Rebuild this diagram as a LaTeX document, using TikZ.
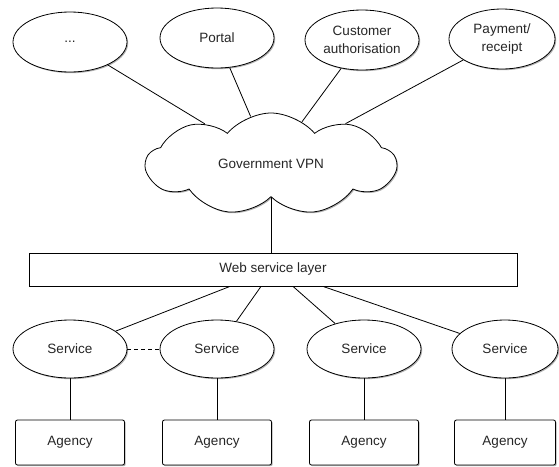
\documentclass[tikz,border=0pt]{standalone}
\usepackage{fontspec}
\setmainfont{Liberation Sans}
\usetikzlibrary{shapes.geometric,shapes.symbols,shadows}
\begin{document}
\begin{tikzpicture}[x=1pt,y=-1pt,
  every node/.style={font=\fontsize{13.5}{18}\selectfont, align=center, text=black!85},
  shad/.style={drop shadow={shadow xshift=1.2pt,shadow yshift=-1.2pt,fill=black,opacity=0.3}},
  oval/.style={ellipse,draw,line width=0.8pt,fill=white,minimum width=114pt,minimum height=60pt,inner sep=0pt,shad},
  box/.style={rectangle,draw,line width=0.8pt,fill=white,rounded corners=2pt,minimum width=109pt,minimum height=45pt,inner sep=0pt,shad},
  link/.style={draw,line width=0.8pt}
]
\useasboundingbox (0,0) rectangle (559,466);
% top ellipses
\node[oval] (dots) at (70,42) {...};
\node[oval] (portal) at (217,38) {Portal};
\node[oval] (cust) at (362,40) {Customer\\authorisation};
\node[oval,minimum width=106pt] (pay) at (502,39) {Payment/\\receipt};
% cloud
\node[cloud,draw,line width=0.8pt,fill=white,cloud puffs=9,cloud puff arc=100,cloud ignores aspect,
      minimum width=250pt,minimum height=102pt,inner sep=0pt,shad] (vpn) at (271,164) {Government VPN};
% web service layer
\node[rectangle,draw,line width=0.8pt,fill=white,minimum width=488pt,minimum height=33pt,inner sep=0pt,shad] (wsl) at (273,269.5) {Web service layer};
% services
\node[oval,minimum height=58pt] (s1) at (70,349) {Service};
\node[oval,minimum height=58pt] (s2) at (217,349) {Service};
\node[oval,minimum height=58pt] (s3) at (364,349) {Service};
\node[oval,minimum height=58pt,minimum width=106pt] (s4) at (505,349) {Service};
% agencies
\node[box] (a1) at (70,442.5) {Agency};
\node[box] (a2) at (217,442.5) {Agency};
\node[box] (a3) at (364,442.5) {Agency};
\node[box,minimum width=101pt] (a4) at (505,442.5) {Agency};
% connectors
\draw[link] (dots) -- (vpn);
\draw[link] (portal) -- (vpn);
\draw[link] (cust) -- (vpn);
\draw[link] (pay) -- (vpn);
\draw[link] (vpn.south) -- (vpn.south |- wsl.north);
\draw[link] ([xshift=-43pt]wsl.south) -- (s1);
\draw[link] ([xshift=-12pt]wsl.south) -- (s2);
\draw[link] ([xshift=20pt]wsl.south) -- (s3);
\draw[link] ([xshift=50pt]wsl.south) -- (s4);
\draw[link,dashed,dash pattern=on 4pt off 3pt] (s1) -- (s2);
\draw[link] (s1) -- (a1);
\draw[link] (s2) -- (a2);
\draw[link] (s3) -- (a3);
\draw[link] (s4) -- (a4);
\end{tikzpicture}
\end{document}
